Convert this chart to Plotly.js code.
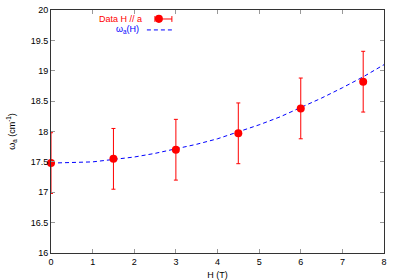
<!DOCTYPE html>
<html><head><meta charset="utf-8">
<script src="https://cdn.plot.ly/plotly-3.0.1.min.js"></script>
<style>body{margin:0;padding:0;background:#fff}#c{width:400px;height:280px}</style>
</head><body><div id="c"></div>
<script>
const fieldH = [0, 1.5, 3, 4.5, 6, 7.5];
const omegaA = [17.48, 17.55, 17.70, 17.97, 18.38, 18.82];
const omegaErr = [0.5, 0.5, 0.5, 0.5, 0.5, 0.5];
const fitH = [0, 0.5, 1, 1.5, 2, 2.5, 3, 3.5, 4, 4.5, 5, 5.5, 6, 6.5, 7, 7.5, 8];
const fitOmega = [17.48, 17.49, 17.50, 17.54, 17.58, 17.64, 17.71, 17.79, 17.88, 17.99, 18.11, 18.24, 18.39, 18.55, 18.72, 18.90, 19.10];
const xTicks = [0, 1, 2, 3, 4, 5, 6, 7, 8];
const yTicks = [16, 16.5, 17, 17.5, 18, 18.5, 19, 19.5, 20];

const font = {family: 'Liberation Sans, Arial, sans-serif', size: 9, color: '#000'};
const traces = [
  {x: fitH, y: fitOmega, mode: 'lines', line: {color: '#0000ff', width: 1, dash: '4px,3px'}, showlegend: false, hoverinfo: 'skip', cliponaxis: false},
  {x: fieldH, y: omegaA, mode: 'markers', marker: {color: '#ff0000', size: 8},
   error_y: {type: 'data', array: omegaErr, visible: true, color: '#ff0000', thickness: 1, width: 2},
   showlegend: false, cliponaxis: false}
];
const axisCommon = {showgrid: false, zeroline: false, showline: true, mirror: 'ticks', linecolor: '#333', linewidth: 1,
  ticks: 'inside', ticklen: 4, tickcolor: '#999', tickfont: font};
const layout = {
  width: 400, height: 280,
  margin: {l: 51, r: 16, t: 10, b: 27},
  paper_bgcolor: '#fff', plot_bgcolor: '#fff',
  font: font,
  xaxis: Object.assign({}, axisCommon, {range: [0, 8], tickvals: xTicks, ticktext: xTicks.map(String),
    title: {text: 'H (T)', font: font, standoff: 5}}),
  yaxis: Object.assign({}, axisCommon, {range: [16, 20], tickvals: yTicks, ticktext: yTicks.map(String),
    title: {text: 'ω<sub>a</sub> (cm<sup>-1</sup>)', font: font, standoff: 13}}),
  annotations: [
    {xref: 'paper', yref: 'paper', x: 0.278, y: 0.963, xanchor: 'right', yanchor: 'middle', showarrow: false,
     text: 'Data H // a', font: {family: font.family, size: 9, color: '#ff0000'}},
    {xref: 'paper', yref: 'paper', x: 0.270, y: 0.918, xanchor: 'right', yanchor: 'middle', showarrow: false,
     text: 'ω<sub>a</sub>(H)', font: {family: font.family, size: 9, color: '#0000ff'}}
  ],
  shapes: [
    {type: 'line', xref: 'paper', yref: 'paper', x0: 0.312, x1: 0.363, y0: 0.963, y1: 0.963, line: {color: '#ff0000', width: 1}},
    {type: 'line', xref: 'paper', yref: 'paper', x0: 0.312, x1: 0.312, y0: 0.951, y1: 0.975, line: {color: '#ff0000', width: 1}},
    {type: 'line', xref: 'paper', yref: 'paper', x0: 0.363, x1: 0.363, y0: 0.951, y1: 0.975, line: {color: '#ff0000', width: 1}},
    {type: 'circle', xref: 'paper', yref: 'paper', x0: 0.312, x1: 0.336, y0: 0.947, y1: 0.980, fillcolor: '#ff0000', line: {color: '#ff0000', width: 0}},
    {type: 'line', xref: 'paper', yref: 'paper', x0: 0.288, x1: 0.363, y0: 0.918, y1: 0.918, line: {color: '#0000ff', width: 1, dash: '4px,3px'}}
  ]
};
Plotly.newPlot('c', traces, layout, {staticPlot: true, displayModeBar: false});
</script></body></html>
